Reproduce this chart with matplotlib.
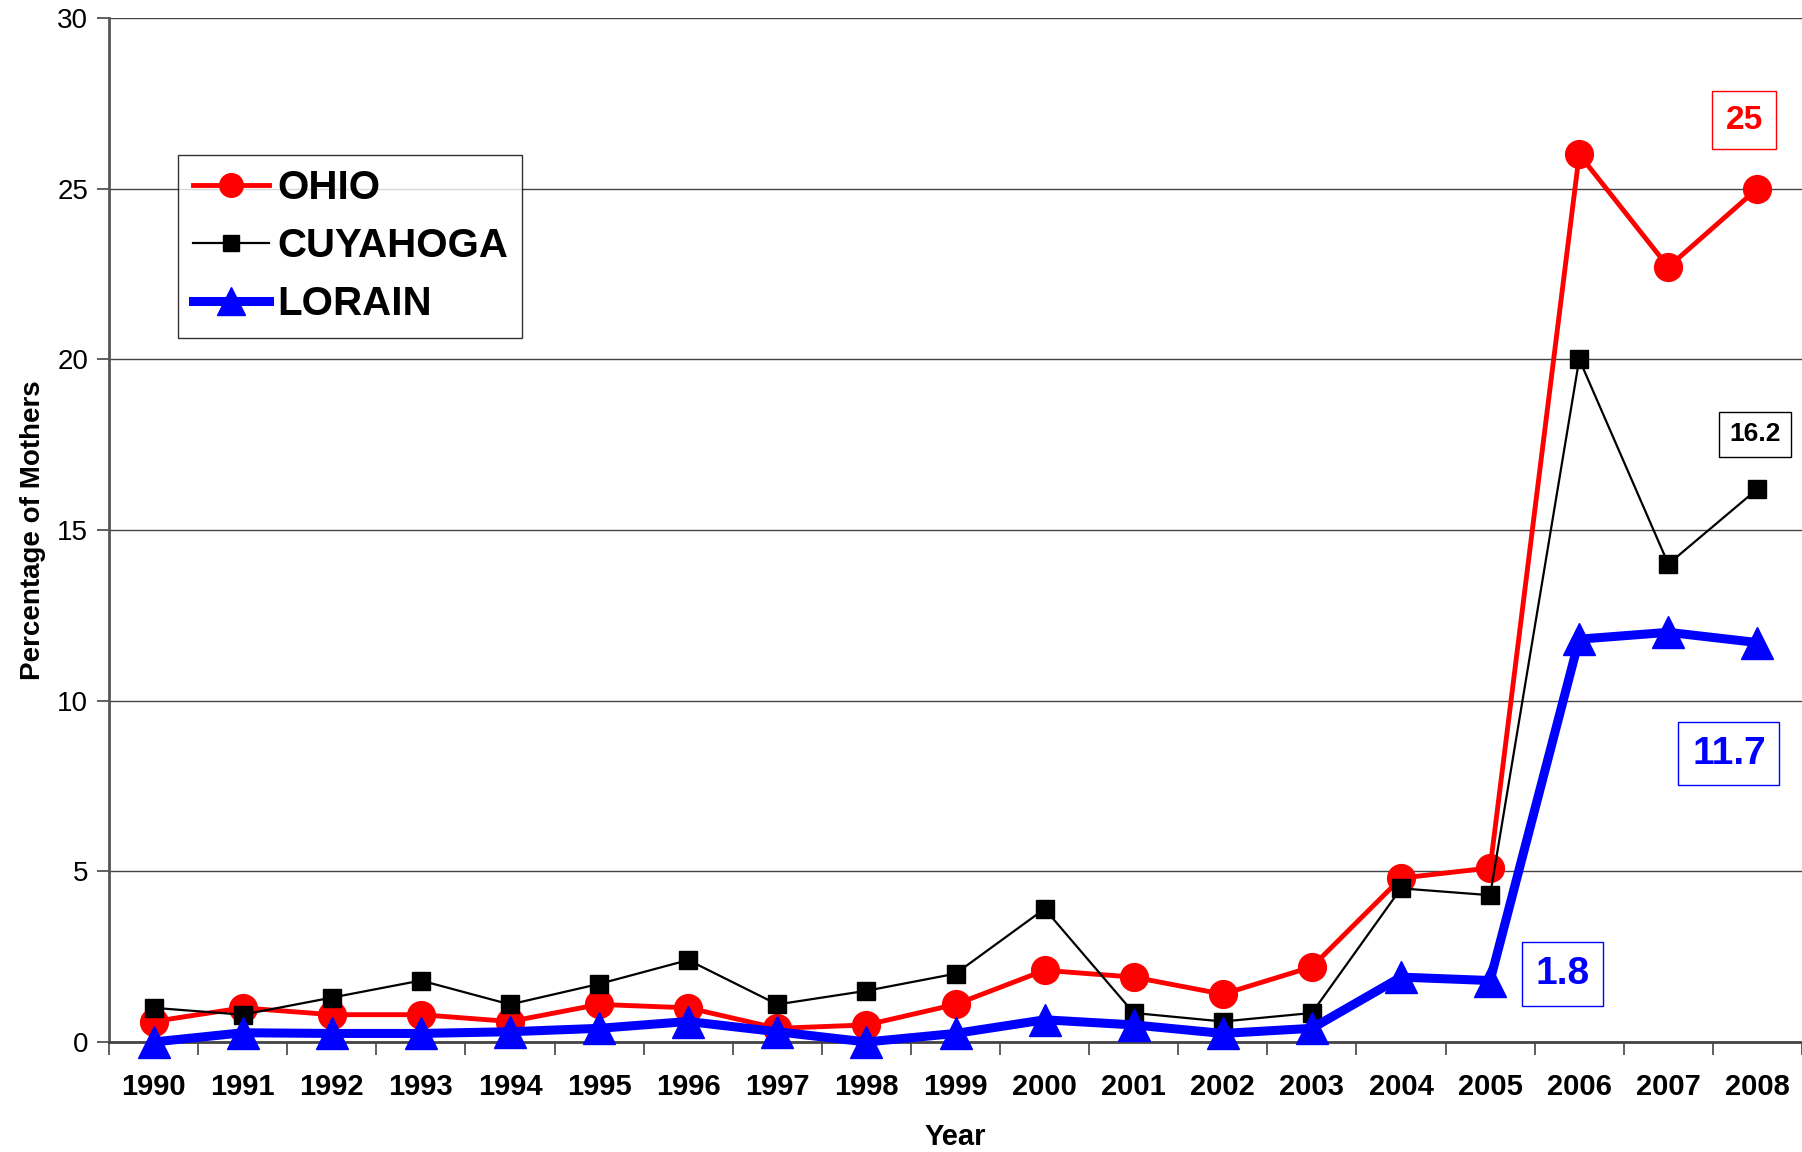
import matplotlib.pyplot as plt

plt.rcParams['font.family'] = ['Liberation Sans', 'DejaVu Sans']

years = ['1990', '1991', '1992', '1993', '1994', '1995', '1996', '1997', '1998', '1999',
         '2000', '2001', '2002', '2003', '2004', '2005', '2006', '2007', '2008']
ohio = [0.6, 1.0, 0.8, 0.8, 0.6, 1.1, 1.0, 0.4, 0.5, 1.1,
        2.1, 1.9, 1.4, 2.2, 4.8, 5.1, 26.0, 22.7, 25.0]
cuyahoga = [1.0, 0.8, 1.3, 1.8, 1.1, 1.7, 2.4, 1.1, 1.5, 2.0,
            3.9, 0.85, 0.6, 0.85, 4.5, 4.3, 20.0, 14.0, 16.2]
lorain = [0.0, 0.27, 0.25, 0.25, 0.3, 0.4, 0.6, 0.3, 0.0, 0.25,
          0.65, 0.5, 0.25, 0.4, 1.9, 1.8, 11.8, 12.0, 11.7]

x = list(range(len(years)))

fig = plt.figure(figsize=(18.02, 11.52), dpi=100)
ax = fig.add_axes([0.0605, 0.0955, 0.9395, 0.889])

# series
ax.plot(x, ohio, color='#ff0000', lw=3.5, marker='o', ms=20, label='OHIO',
        zorder=3, clip_on=False)
ax.plot(x, cuyahoga, color='black', lw=1.6, marker='s', ms=13, label='CUYAHOGA',
        zorder=4, clip_on=False)
ax.plot(x, lorain, color='#0000ff', lw=6.5, marker='^', ms=23, label='LORAIN',
        zorder=5, clip_on=False)

ax.set_xlim(-0.5, 18.5)
ax.set_ylim(0, 30)
ax.set_yticks(range(0, 31, 5))
ax.set_yticklabels([str(v) for v in range(0, 31, 5)], fontsize=20)
ax.set_xticks(x)
ax.set_xticklabels(years, fontsize=21, fontweight='bold')
ax.set_xticks([i - 0.5 for i in range(len(years) + 1)], minor=True)
ax.tick_params(axis='x', which='major', length=0, pad=22)
ax.tick_params(axis='x', which='minor', length=9, width=1.2, color='#444444', direction='out')
ax.tick_params(axis='y', length=9, width=1.2, color='#444444', pad=6)

ax.grid(axis='y', color='#444444', lw=1.0)
ax.set_axisbelow(True)
for s in ['top', 'right']:
    ax.spines[s].set_visible(False)
ax.spines['left'].set_color('#555555')
ax.spines['left'].set_linewidth(2)
ax.spines['bottom'].set_color('#444444')
ax.spines['bottom'].set_linewidth(2)

ax.set_ylabel('Percentage of Mothers', fontsize=20, fontweight='bold', labelpad=8)
ax.set_xlabel('Year', fontsize=21, fontweight='bold', labelpad=16)

leg = ax.legend(loc='upper left', bbox_to_anchor=(0.041, 0.866), borderaxespad=0,
                prop={'weight': 'bold', 'size': 29}, frameon=True, fancybox=False,
                edgecolor='black', handlelength=1.9, handletextpad=0.2,
                borderpad=0.35, labelspacing=0.5, markerscale=0.85)
leg.get_frame().set_linewidth(1.0)

# value labels
ax.text(17.85, 27.0, '25', color='#ff0000', fontsize=24, fontweight='bold',
        ha='center', va='center',
        bbox=dict(boxstyle='square,pad=0.4', fc='white', ec='#ff0000', lw=1))
ax.text(17.97, 17.8, '16.2', color='black', fontsize=19, fontweight='bold',
        ha='center', va='center',
        bbox=dict(boxstyle='square,pad=0.4', fc='white', ec='black', lw=1))
ax.text(17.68, 8.45, '11.7', color='#0000ff', fontsize=28, fontweight='bold',
        ha='center', va='center',
        bbox=dict(boxstyle='square,pad=0.35', fc='white', ec='#0000ff', lw=1))
ax.text(15.81, 1.99, '1.8', color='#0000ff', fontsize=28, fontweight='bold',
        ha='center', va='center',
        bbox=dict(boxstyle='square,pad=0.35', fc='white', ec='#0000ff', lw=1))

fig.savefig('out.png', dpi=100)
